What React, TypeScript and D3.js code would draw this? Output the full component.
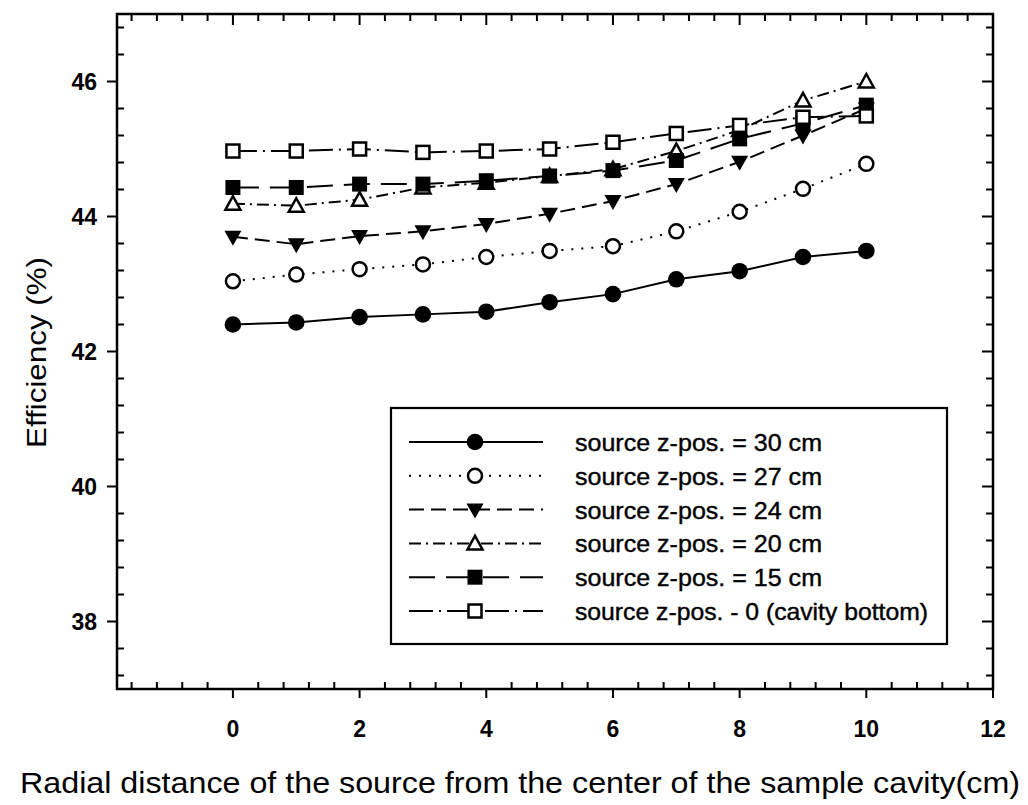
import React from 'react';
import * as d3 from 'd3';

// radial distance (cm)
const distances = [0, 1, 2, 3, 4, 5, 6, 7, 8, 9, 10];

// efficiency (%) per source z-position
const z30 = [42.40, 42.43, 42.51, 42.55, 42.59, 42.73, 42.85, 43.07, 43.19, 43.40, 43.49];
const z27 = [43.04, 43.14, 43.22, 43.29, 43.40, 43.49, 43.56, 43.78, 44.07, 44.41, 44.78];
const z24 = [43.70, 43.59, 43.71, 43.78, 43.89, 44.04, 44.23, 44.48, 44.81, 45.20, 45.60];
const z20 = [44.19, 44.16, 44.25, 44.43, 44.50, 44.60, 44.70, 44.97, 45.28, 45.72, 46.00];
const z15 = [44.43, 44.43, 44.48, 44.48, 44.53, 44.60, 44.68, 44.83, 45.15, 45.38, 45.65];
const z0 = [44.97, 44.97, 45.00, 44.95, 44.97, 45.00, 45.10, 45.23, 45.35, 45.47, 45.49];

const xTicks = [0, 2, 4, 6, 8, 10, 12];
const yTicks = [38, 40, 42, 44, 46];

const legendLabels = [
  'source z-pos. = 30 cm',
  'source z-pos. = 27 cm',
  'source z-pos. = 24 cm',
  'source z-pos. = 20 cm',
  'source z-pos. = 15 cm',
  'source z-pos. - 0 (cavity bottom)',
];

type Series = { values: number[]; dash: string; marker: string; label: string };

const series: Series[] = [
  { values: z30, dash: 'none', marker: 'circleFilled', label: legendLabels[0] },
  { values: z27, dash: '2,8', marker: 'circleOpen', label: legendLabels[1] },
  { values: z24, dash: '15,7', marker: 'triDownFilled', label: legendLabels[2] },
  { values: z20, dash: '12,5,2,5', marker: 'triUpOpen', label: legendLabels[3] },
  { values: z15, dash: '26,11', marker: 'squareFilled', label: legendLabels[4] },
  { values: z0, dash: '24,6,2,6', marker: 'squareOpen', label: legendLabels[5] },
];

const FONT = 'Liberation Sans, Arial, Helvetica, sans-serif';

const Marker = ({ kind, x, y }: { kind: string; x: number; y: number }) => {
  const sw = 2.5;
  switch (kind) {
    case 'circleFilled':
      return <circle cx={x} cy={y} r={8.3} fill="#000" />;
    case 'circleOpen':
      return <circle cx={x} cy={y} r={7} fill="#fff" stroke="#000" strokeWidth={sw} />;
    case 'triDownFilled':
      return <path d={`M${x - 8.5},${y - 6} L${x + 8.5},${y - 6} L${x},${y + 9} Z`} fill="#000" />;
    case 'triUpOpen':
      return (
        <path d={`M${x - 7.5},${y + 6} L${x + 7.5},${y + 6} L${x},${y - 7.5} Z`}
          fill="#fff" stroke="#000" strokeWidth={sw} strokeLinejoin="miter" />
      );
    case 'squareFilled':
      return <rect x={x - 7.5} y={y - 7.5} width={15} height={15} fill="#000" />;
    default:
      return <rect x={x - 6.5} y={y - 6.5} width={13} height={13} fill="#fff" stroke="#000" strokeWidth={sw} />;
  }
};

const App = () => {
  const width = 1028;
  const height = 805;
  const left = 117, right = 993, top = 14, bottom = 689;

  const x = d3.scaleLinear().domain([-1.83, 12]).range([left, right]);
  const y = d3.scaleLinear().domain([37, 47]).range([bottom, top]);

  const line = d3.line<number>()
    .x((_, i) => x(distances[i]))
    .y(d => y(d));

  const xMinor = d3.range(-1.6, 12, 0.4).filter(v => Math.abs(v / 2 - Math.round(v / 2)) > 0.01);
  const yMinor = d3.range(37.2, 47, 0.4).filter(v => Math.abs(v / 2 - Math.round(v / 2)) > 0.01);

  const legend = { x0: 391, y0: 408, x1: 947, y1: 644 };
  const rowY = (i: number) => 442 + i * 33.8;
  const legendWidths = [247, 247, 247, 247, 247, 353];

  return (
    <svg width={width} height={height} style={{ position: 'absolute', left: 0, top: 0, background: '#fff' }}
      fontFamily={FONT}>
      <rect x={0} y={0} width={width} height={height} fill="#fff" />

      {/* ticks */}
      <g stroke="#000" strokeWidth={2}>
        {xMinor.map(v => (
          <g key={`xm${v}`}>
            <line x1={x(v)} x2={x(v)} y1={bottom} y2={bottom - 7} />
            <line x1={x(v)} x2={x(v)} y1={top} y2={top + 7} />
          </g>
        ))}
        {xTicks.map(v => (
          <g key={`xM${v}`}>
            <line x1={x(v)} x2={x(v)} y1={bottom} y2={bottom + 9} />
            <line x1={x(v)} x2={x(v)} y1={top} y2={top + 11} />
          </g>
        ))}
        {yMinor.map(v => (
          <g key={`ym${v}`}>
            <line x1={left} x2={left + 7} y1={y(v)} y2={y(v)} />
            <line x1={right} x2={right - 7} y1={y(v)} y2={y(v)} />
          </g>
        ))}
        {yTicks.map(v => (
          <g key={`yM${v}`}>
            <line x1={left} x2={left - 10} y1={y(v)} y2={y(v)} />
            <line x1={right} x2={right - 11} y1={y(v)} y2={y(v)} />
          </g>
        ))}
      </g>

      {/* frame */}
      <rect x={left} y={top} width={right - left} height={bottom - top} fill="none" stroke="#000" strokeWidth={2.5} />

      {/* tick labels */}
      <g fontSize={23} fontWeight="bold" fill="#000">
        {xTicks.map(v => (
          <text key={`xl${v}`} x={x(v)} y={737} textAnchor="middle">{v}</text>
        ))}
        {yTicks.map(v => (
          <text key={`yl${v}`} x={97} y={y(v) + 8} textAnchor="end">{v}</text>
        ))}
      </g>

      {/* axis titles */}
      <text x={20} y={793} fontSize={30} textLength={1000} lengthAdjust="spacingAndGlyphs" fill="#000">
        Radial distance of the source from the center of the sample cavity(cm)
      </text>
      <text transform="translate(46,448) rotate(-90)" fontSize={28} textLength={191}
        lengthAdjust="spacingAndGlyphs" fill="#000">
        Efficiency (%)
      </text>

      {/* series */}
      {series.map((s, si) => (
        <g key={`s${si}`}>
          <path d={line(s.values) || ''} fill="none" stroke="#000" strokeWidth={2}
            strokeDasharray={s.dash} />
          {s.values.map((v, i) => (
            <Marker key={i} kind={s.marker} x={x(distances[i])} y={y(v)} />
          ))}
        </g>
      ))}

      {/* legend */}
      <rect x={legend.x0} y={legend.y0} width={legend.x1 - legend.x0} height={legend.y1 - legend.y0}
        fill="#fff" stroke="#000" strokeWidth={2.2} />
      {series.map((s, i) => (
        <g key={`lg${i}`}>
          <line x1={409} x2={543} y1={rowY(i)} y2={rowY(i)} stroke="#000" strokeWidth={2}
            strokeDasharray={s.dash} />
          <Marker kind={s.marker} x={475} y={rowY(i)} />
          <text x={575} y={rowY(i) + 9} fontSize={24} textLength={legendWidths[i]}
            lengthAdjust="spacingAndGlyphs" fill="#000" stroke="#000" strokeWidth={0.4}>
            {s.label}
          </text>
        </g>
      ))}
    </svg>
  );
};

export default App;
